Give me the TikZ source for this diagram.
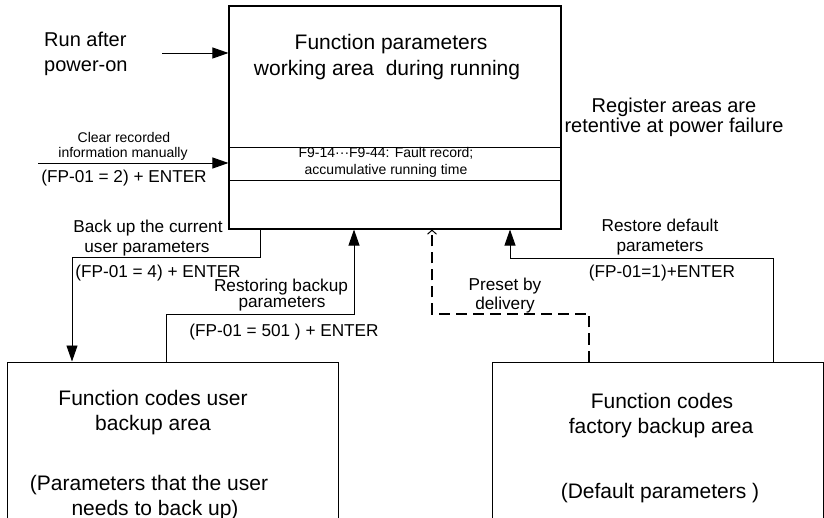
\documentclass[tikz,border=0pt]{standalone}
\usepackage{fontspec}
\setmainfont{Liberation Sans}
\usetikzlibrary{arrows.meta,positioning}
\tikzset{
 areabox/.style={draw,line width=1.1pt,inner sep=0pt},
 flow/.style={line width=0.9pt,-{Triangle[length=16pt,width=11pt]}},
 preset/.style={line width=2.6pt,dash pattern=on 11pt off 6pt,
  -{Straight Barb[length=4pt,width=9pt,line width=1pt]}},
 titletxt/.style={font=\fontsize{21}{25}\selectfont,anchor=base,inner sep=0pt},
 bigtxt/.style={font=\fontsize{20}{24}\selectfont,anchor=base,inner sep=0pt},
 midtxt/.style={font=\fontsize{17.2}{20}\selectfont,anchor=base,inner sep=0pt},
 smalltxt/.style={font=\fontsize{14}{17}\selectfont,anchor=base,inner sep=0pt},
}
\begin{document}
\begin{tikzpicture}[x=1pt,y=-1pt,line cap=butt,line join=miter]
\clip (0,0) rectangle (824,518);
% The three register areas.
\node[areabox,minimum width=332pt,minimum height=223pt] (main) at (395,117.5) {};
\draw[line width=0.8pt] (main.west |- 0,147) -- (main.east |- 0,147);
\draw[line width=0.8pt] (main.west |- 0,180) -- (main.east |- 0,180);
\node[areabox,line width=1pt,minimum width=331pt,minimum height=200pt] (userbk) at (172.5,462) {};
\node[areabox,line width=1pt,minimum width=331pt,minimum height=200pt] (factbk) at (657.5,462) {};
\node[titletxt] (mainA) at (391,50) {Function parameters};
\node[titletxt] (mainB) at (387,76) {working area\ \ during running};
\node[smalltxt] (recA) at (386,158) {F9-14···F9-44: Fault record;};
\node[smalltxt] (recB) at (386,175) {accumulative running time};
\node[titletxt] (userA) at (153,405) {Function codes user};
\node[titletxt] (userB) at (153,430) {backup area};
\node[titletxt] (userC) at (149,490) {(Parameters that the user};
\node[titletxt] (userD) at (155,515) {needs to back up)};
\node[titletxt] (factA) at (662,408) {Function codes};
\node[titletxt] (factB) at (661,433) {factory backup area};
\node[titletxt] (factC) at (660,498) {(Default parameters )};
\node[bigtxt] (regA) at (674,113) {Register areas are};
\node[bigtxt] (regB) at (674,133) {retentive at power failure};
% Inputs on the left.
\coordinate (runin) at (162,53);
\coordinate (clrin) at (38,163);
\draw[flow] (runin) -- (main.west |- runin);
\draw[flow] (clrin) -- (main.west |- clrin);
\node[bigtxt,anchor=base west] (runA) at (44,47) {Run after};
\node[bigtxt,anchor=base west] (runB) at (44,72) {power-on};
\node[smalltxt] (clrA) at (124,143) {Clear recorded};
\node[smalltxt] (clrB) at (123,158) {information manually};
\node[midtxt] (clrC) at (124,183) {(FP-01 = 2) + ENTER};
% Backup and restore paths.
\draw[flow] (main.south -| 260,0) |- (72,257) -- (userbk.north -| 72,0);
\draw[flow] (userbk.north -| 166,0) |- (354,314) -- (main.south -| 354,0);
\draw[flow] (factbk.north -| 773,0) |- (510,258) -- (main.south -| 510,0);
\draw[preset] (factbk.north -| 589,0) |- (432,314) -- (main.south -| 432,0);
\node[midtxt] (bkA) at (148,233) {Back up the current};
\node[midtxt] (bkB) at (147,253) {user parameters};
\node[midtxt] (bkC) at (158,278) {(FP-01 = 4) + ENTER};
\node[midtxt] (rsA) at (281,292) {Restoring backup};
\node[midtxt] (rsB) at (282,308) {parameters};
\node[midtxt] (rsC) at (284,337) {(FP-01 = 501 ) + ENTER};
\node[midtxt] (dfA) at (660,232) {Restore default};
\node[midtxt] (dfB) at (660,252) {parameters};
\node[midtxt] (dfC) at (662,278) {(FP-01=1)+ENTER};
\node[midtxt] (psA) at (505,291) {Preset by};
\node[midtxt] (psB) at (505,310) {delivery};
\end{tikzpicture}
\end{document}
